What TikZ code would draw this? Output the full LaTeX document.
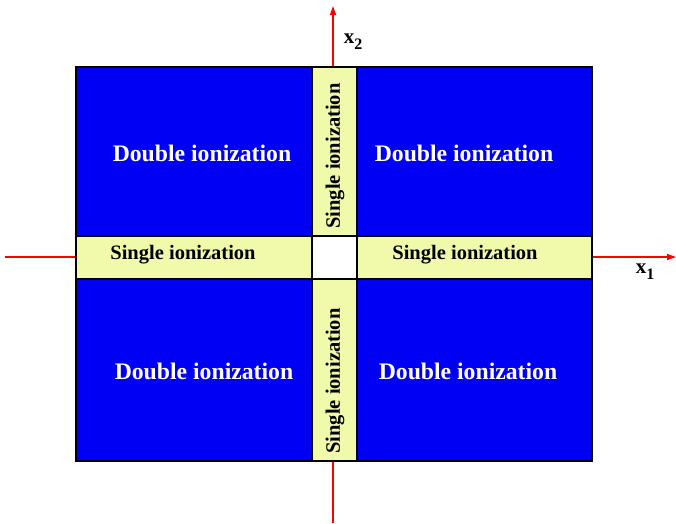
\documentclass[tikz,border=0pt]{standalone}
\usepackage{fontspec}
\setmainfont{Liberation Serif}
\usetikzlibrary{arrows.meta,positioning}

\definecolor{ionblue}{RGB}{0,0,245}
\definecolor{ionyellow}{RGB}{240,250,170}

\begin{document}
\begin{tikzpicture}[
    x=1pt, y=-1pt,
    dblock/.style={fill=ionblue, draw=black, line width=1.6pt},
    sblock/.style={fill=ionyellow, draw=black, line width=1.6pt},
    cblock/.style={fill=white, draw=black, line width=1.6pt},
    dlabel/.style={font=\bfseries\fontsize{23.7}{25}\selectfont, text=white},
    slabel/.style={font=\bfseries\fontsize{20.5}{22}\selectfont},
    axis/.style={draw=red, line width=1.4pt},
    axislabel/.style={font=\bfseries\fontsize{21}{22}\selectfont},
]

\useasboundingbox (0,0) rectangle (676,523);

% Axes (behind the blocks)
\coordinate (X1start) at (5,257);
\coordinate (X1end) at (676,257);
\coordinate (X2start) at (333,523);
\coordinate (X2end) at (333,6);
\draw[axis, -{Triangle[length=9pt, width=6pt]}] (X1start) -- (X1end);
\draw[axis, -{Triangle[length=9pt, width=6pt]}] (X2start) -- (X2end);

% Single ionization strips
\draw[sblock] (76,236) rectangle (312,279);
\draw[sblock] (357,236) rectangle (592,279);
\draw[sblock] (312,67) rectangle (357,236);
\draw[sblock] (312,279) rectangle (357,461);

% Centre
\draw[cblock] (312,236) rectangle (357,279);

% Double ionization blocks
\draw[dblock] (76,67) rectangle (312,236);
\draw[dblock] (357,67) rectangle (592,236);
\draw[dblock] (76,279) rectangle (312,461);
\draw[dblock] (357,279) rectangle (592,461);

% Labels
\node[dlabel] (dTL) at (202,153) {Double ionization};
\node[dlabel] (dTR) at (464,153) {Double ionization};
\node[dlabel] (dBL) at (204,371) {Double ionization};
\node[dlabel] (dBR) at (468,371) {Double ionization};

\node[slabel] (sL) at (183,255) {Single ionization};
\node[slabel] (sR) at (465,255) {Single ionization};
\node[slabel, rotate=90] (sT) at (335,156) {Single ionization};
\node[slabel, rotate=90] (sB) at (335,381) {Single ionization};

% Axis labels
\node[axislabel] (x1lab) at (645,272) {x\raisebox{-6pt}{\fontsize{16}{16}\selectfont 1}};
\node[axislabel] (x2lab) at (353,42) {x\raisebox{-6pt}{\fontsize{16}{16}\selectfont 2}};

\end{tikzpicture}
\end{document}
